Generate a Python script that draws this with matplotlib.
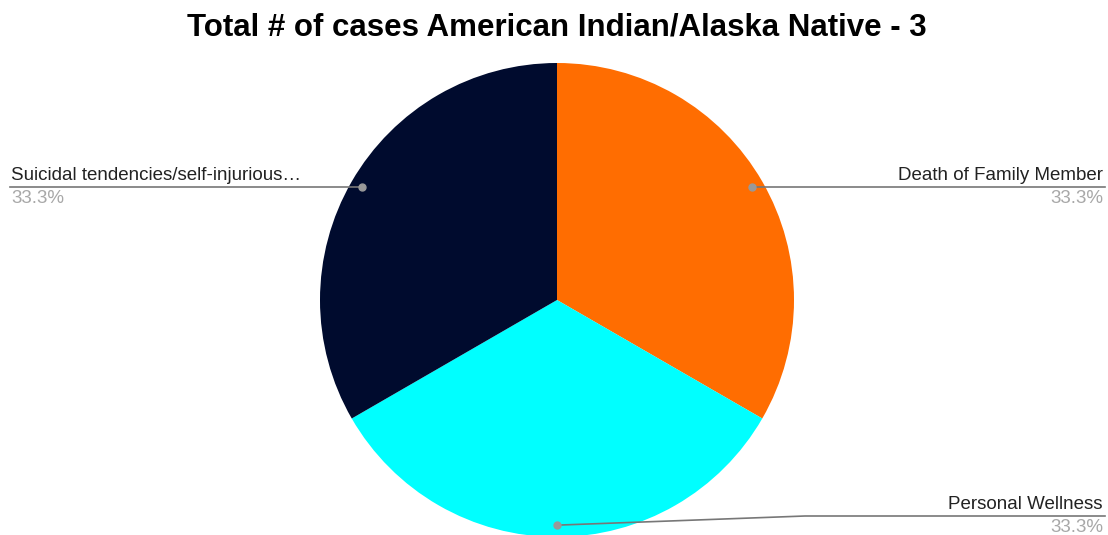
import numpy as np
import matplotlib.pyplot as plt

# slices, clockwise from 12 o'clock
labels = ["Death of Family Member", "Personal Wellness", "Suicidal tendencies/self-injurious\u2026"]
counts = [1, 1, 1]
colors = ["#ff6d01", "#00ffff", "#000b2e"]

W, H = 1108, 535
cx, cy, r = 557, 300, 237

fig = plt.figure(figsize=(W / 100, H / 100), dpi=100)
ax = fig.add_axes([0, 0, 1, 1])

# pie drawn with y flipped -> counterclock in data = clockwise on screen
wedges, _ = ax.pie(counts, colors=colors, startangle=-90, counterclock=True,
                   center=(cx, cy), radius=r, frame=True,
                   wedgeprops=dict(linewidth=0))
ax.set_xlim(0, W)
ax.set_ylim(H, 0)
ax.set_aspect("equal")
ax.axis("off")

total = sum(counts)
font = "Liberation Sans"
for w, lab, n in zip(wedges, labels, counts):
    ang = np.deg2rad((w.theta1 + w.theta2) / 2)
    px = cx + 0.95 * r * np.cos(ang)
    py = cy + 0.95 * r * np.sin(ang)
    pct = f"{100 * n / total:.1f}%"
    if py > cy + r * 0.8:
        # bottom slice: bend then run right
        ly = 516
        ax.plot([px, 805, 1105], [py, ly, ly], color="#777777", lw=1.2, zorder=3)
        tx, ha = 1103, "right"
    elif px >= cx:
        ly = py
        ax.plot([px, 1105], [ly, ly], color="#777777", lw=1.2, zorder=3)
        tx, ha = 1103, "right"
    else:
        ly = py
        ax.plot([px, 10], [ly, ly], color="#777777", lw=1.2, zorder=3)
        tx, ha = 11, "left"
    ax.plot(px, py, "o", color="#999999", ms=5, zorder=4)
    ax.text(tx, ly - 3, lab, ha=ha, va="bottom", fontsize=13.5,
            family=font, color="#222222")
    ax.text(tx, ly + 3, pct, ha=ha, va="top", fontsize=13.5,
            family=font, color="#a8a8a8")

ax.text(557, 28, "Total # of cases American Indian/Alaska Native - 3",
        ha="center", va="center", fontsize=22.5, fontweight="bold",
        family=font, color="black")

fig.savefig("out.png", dpi=100)
